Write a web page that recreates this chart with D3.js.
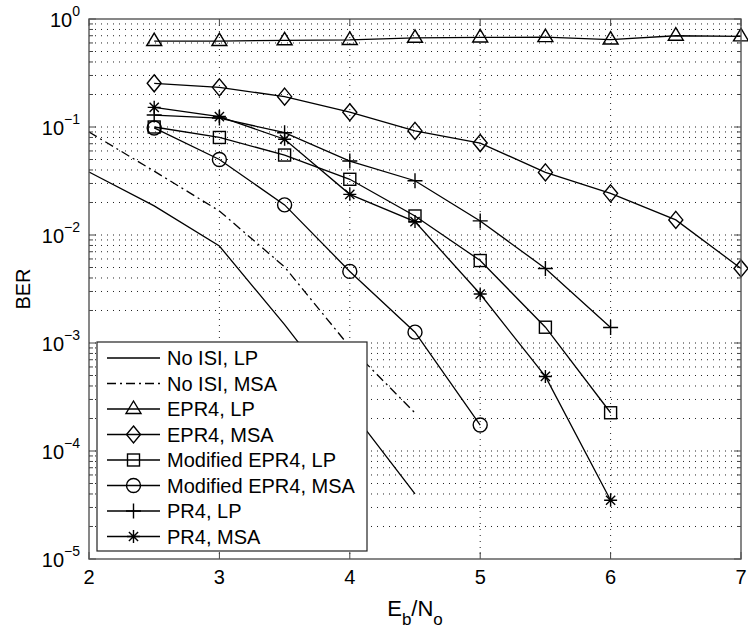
<!DOCTYPE html>
<html><head><meta charset="utf-8">
<script src="https://cdn.jsdelivr.net/npm/d3@7"></script>
<style>body{margin:0;background:#fff}svg{display:block}text{font-family:"Liberation Sans",Arial,Helvetica,sans-serif;fill:#000}</style>
</head><body><svg id="c" width="748" height="632"></svg>
<script>
// ---- data ----
const xTicks = [2, 3, 4, 5, 6, 7];
const yTickExp = [-5, -4, -3, -2, -1, 0];
const seriesNames = ["No ISI, LP", "No ISI, MSA", "EPR4, LP", "EPR4, MSA", "Modified EPR4, LP", "Modified EPR4, MSA", "PR4, LP", "PR4, MSA"];
const xNoISI = [2, 2.5, 3, 3.5, 4, 4.5];
const noIsiLP = [0.0383, 0.0186, 0.0079, 0.00148, 0.000245, 0.000040];
const noIsiMSA = [0.0899, 0.039, 0.0167, 0.00506, 0.00092, 0.000225];
const xEPR4 = [2.5, 3, 3.5, 4, 4.5, 5, 5.5, 6, 6.5, 7];
const epr4LP = [0.625, 0.625, 0.635, 0.64, 0.67, 0.675, 0.68, 0.645, 0.70, 0.69];
const epr4MSA = [0.254, 0.233, 0.191, 0.137, 0.092, 0.071, 0.038, 0.0243, 0.0138, 0.0049];
const xModLP = [2.5, 3, 3.5, 4, 4.5, 5, 5.5, 6];
const modEpr4LP = [0.100, 0.080, 0.055, 0.0328, 0.0150, 0.0058, 0.0014, 0.000226];
const xModMSA = [2.5, 3, 3.5, 4, 4.5, 5];
const modEpr4MSA = [0.098, 0.050, 0.019, 0.0046, 0.00126, 0.000174];
const xPR4 = [2.5, 3, 3.5, 4, 4.5, 5, 5.5, 6];
const pr4LP = [0.129, 0.121, 0.0886, 0.0484, 0.0318, 0.0135, 0.0049, 0.00139];
const pr4MSA = [0.152, 0.125, 0.077, 0.0238, 0.0133, 0.00284, 0.00049, 0.000035];

const series = [
  {name: seriesNames[0], xs: xNoISI, ys: noIsiLP, dash: null, marker: null},
  {name: seriesNames[1], xs: xNoISI, ys: noIsiMSA, dash: "9,4,2,4", marker: null},
  {name: seriesNames[2], xs: xEPR4, ys: epr4LP, dash: null, marker: "triangle"},
  {name: seriesNames[3], xs: xEPR4, ys: epr4MSA, dash: null, marker: "diamond"},
  {name: seriesNames[4], xs: xModLP, ys: modEpr4LP, dash: null, marker: "square"},
  {name: seriesNames[5], xs: xModMSA, ys: modEpr4MSA, dash: null, marker: "circle"},
  {name: seriesNames[6], xs: xPR4, ys: pr4LP, dash: null, marker: "plus"},
  {name: seriesNames[7], xs: xPR4, ys: pr4MSA, dash: null, marker: "star"}
];

// ---- layout ----
const L = 89, R = 741, T = 19, B = 559;
const svg = d3.select("#c");
const x = d3.scaleLinear().domain([2, 7]).range([L, R]);
const y = d3.scaleLog().domain([1e-5, 1]).range([B, T]);

// grid
const g = svg.append("g");
const minorVals = [];
for (let e = -5; e < 0; e++) for (let m = 1; m <= 9; m++) minorVals.push(m * Math.pow(10, e));
minorVals.push(1);
g.selectAll("line.hg").data(minorVals.filter(v => v > 1e-5 && v < 1)).enter().append("line")
  .attr("x1", L).attr("x2", R).attr("y1", d => y(d)).attr("y2", d => y(d))
  .attr("stroke", "#222").attr("stroke-width", 1).attr("stroke-dasharray", "1,5");
g.selectAll("line.vg").data(xTicks.slice(1, -1)).enter().append("line")
  .attr("x1", d => x(d)).attr("x2", d => x(d)).attr("y1", T).attr("y2", B)
  .attr("stroke", "#222").attr("stroke-width", 1).attr("stroke-dasharray", "1,5");

// ticks (inside, both sides)
const tk = svg.append("g").attr("stroke", "#444").attr("stroke-width", 1);
xTicks.forEach(v => {
  tk.append("line").attr("x1", x(v)).attr("x2", x(v)).attr("y1", B).attr("y2", B - 7);
  tk.append("line").attr("x1", x(v)).attr("x2", x(v)).attr("y1", T).attr("y2", T + 7);
});
minorVals.forEach(v => {
  const major = Math.abs(Math.log10(v) - Math.round(Math.log10(v))) < 1e-9;
  const len = major ? 7 : 4;
  tk.append("line").attr("x1", L).attr("x2", L + len).attr("y1", y(v)).attr("y2", y(v));
  tk.append("line").attr("x1", R).attr("x2", R - len).attr("y1", y(v)).attr("y2", y(v));
});

// lines
const lineGen = d3.line().x(d => x(d[0])).y(d => y(d[1]));
const pg = svg.append("g");
series.forEach(s => {
  const pts = s.xs.map((v, i) => [v, s.ys[i]]);
  pg.append("path").attr("d", lineGen(pts)).attr("fill", "none").attr("stroke", "#000")
    .attr("stroke-width", 1.3).attr("stroke-dasharray", s.dash);
});

function drawMarker(sel, type, cx, cy) {
  const st = {fill: "none", stroke: "#000", "stroke-width": 1.4};
  let el;
  if (type === "triangle") el = sel.append("path").attr("d", `M${cx},${cy-8}L${cx+7.5},${cy+4.5}L${cx-7.5},${cy+4.5}Z`);
  else if (type === "diamond") el = sel.append("path").attr("d", `M${cx},${cy-8.5}L${cx+7},${cy}L${cx},${cy+8.5}L${cx-7},${cy}Z`);
  else if (type === "square") el = sel.append("rect").attr("x", cx-6).attr("y", cy-6).attr("width", 12).attr("height", 12);
  else if (type === "circle") el = sel.append("circle").attr("cx", cx).attr("cy", cy).attr("r", 7);
  else if (type === "plus") el = sel.append("path").attr("d", `M${cx-7.5},${cy}H${cx+7.5}M${cx},${cy-7.5}V${cy+7.5}`);
  else if (type === "star") { const a = 6.5, b = 4.6;
    el = sel.append("path").attr("d", `M${cx-a},${cy}H${cx+a}M${cx},${cy-a}V${cy+a}M${cx-b},${cy-b}L${cx+b},${cy+b}M${cx-b},${cy+b}L${cx+b},${cy-b}`); }
  if (el) Object.entries(st).forEach(([k, v]) => el.attr(k, v));
}
const mg = svg.append("g");
series.forEach(s => { if (s.marker) s.xs.forEach((v, i) => drawMarker(mg, s.marker, x(v), y(s.ys[i]))); });

// axes box
svg.append("rect").attr("x", L).attr("y", T).attr("width", R - L).attr("height", B - T)
  .attr("fill", "none").attr("stroke", "#555").attr("stroke-width", 1.4);

// tick labels
xTicks.forEach(v => svg.append("text").attr("x", x(v)).attr("y", 584).attr("text-anchor", "middle")
  .attr("font-size", 20).text(v));
yTickExp.forEach(e => {
  const t = svg.append("text").attr("x", 80).attr("y", y(Math.pow(10, e)) + 8).attr("text-anchor", "end").attr("font-size", 20);
  t.append("tspan").text("10");
  t.append("tspan").attr("font-size", 14).attr("dy", -11).text(e === 0 ? "0" : "\u2212" + Math.abs(e));
});

// axis titles
const xl = svg.append("text").attr("x", (L + R) / 2).attr("y", 616).attr("text-anchor", "middle").attr("font-size", 22);
xl.append("tspan").text("E");
xl.append("tspan").attr("font-size", 17).attr("dy", 9).text("b");
xl.append("tspan").attr("dy", -9).text("/N");
xl.append("tspan").attr("font-size", 17).attr("dy", 9).text("o");
svg.append("text").attr("transform", `translate(30,${(T + B) / 2}) rotate(-90)`).attr("text-anchor", "middle")
  .attr("font-size", 20).text("BER");

// legend
const lg = svg.append("g");
lg.append("rect").attr("x", 97).attr("y", 342).attr("width", 270).attr("height", 209)
  .attr("fill", "#fff").attr("stroke", "#222").attr("stroke-width", 1.2);
series.forEach((s, i) => {
  const cy = 358 + i * 25.5;
  lg.append("line").attr("x1", 107).attr("x2", 160).attr("y1", cy).attr("y2", cy)
    .attr("stroke", "#000").attr("stroke-width", 1.3).attr("stroke-dasharray", s.dash);
  if (s.marker) drawMarker(lg, s.marker, 133.5, cy);
  lg.append("text").attr("x", 167).attr("y", cy + 7).attr("font-size", 20).text(s.name);
});
</script></body></html>
